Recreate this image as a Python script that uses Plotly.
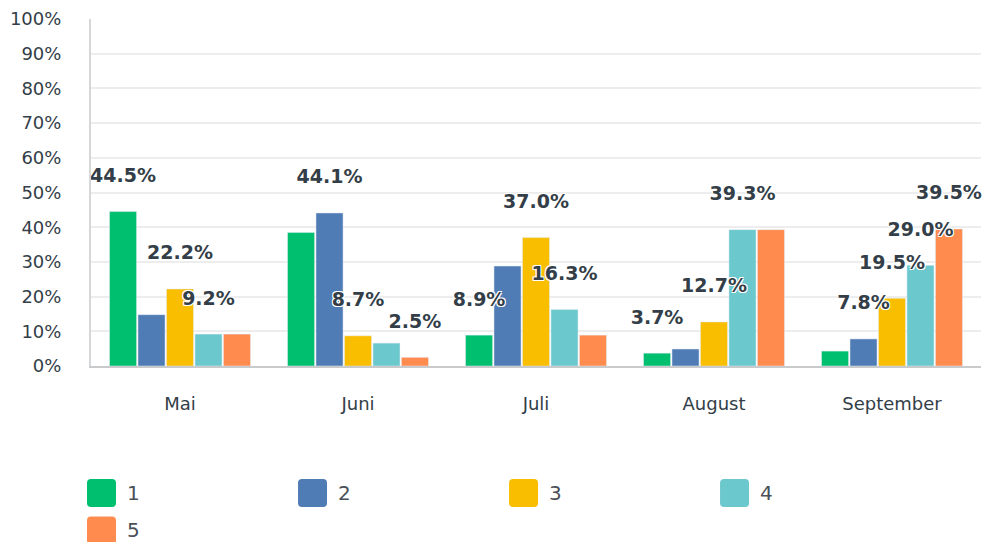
import plotly.graph_objects as go

categories = ["Mai", "Juni", "Juli", "August", "September"]
series_names = ["1", "2", "3", "4", "5"]
series_colors = ["#00BF6F", "#507CB6", "#F9BE00", "#6BC8CD", "#FF8B4F"]

s1 = [44.5, 38.5, 8.9, 3.7, 4.3]
s2 = [14.8, 44.1, 28.8, 4.9, 7.8]
s3 = [22.2, 8.7, 37.0, 12.7, 19.5]
s4 = [9.2, 6.6, 16.3, 39.3, 29.0]
s5 = [9.2, 2.5, 8.9, 39.3, 39.5]
series_values = [s1, s2, s3, s4, s5]

# which value labels are visible (others hidden by overlap in the original)
show1 = [True, False, True, True, False]
show2 = [False, True, False, False, True]
show3 = [True, True, True, True, True]
show4 = [True, False, True, True, True]
show5 = [False, True, False, False, True]
series_show = [show1, show2, show3, show4, show5]

y_ticks = [0, 10, 20, 30, 40, 50, 60, 70, 80, 90, 100]
y_tick_labels = [f"{t}%" for t in y_ticks]

FONT = "DejaVu Sans"
TXT = "#333E48"

fig = go.Figure()
for i, (name, vals, col) in enumerate(zip(series_names, series_values, series_colors)):
    fig.add_trace(go.Bar(
        x=categories, y=vals, name=name, marker_color=col,
        offsetgroup=str(i), showlegend=False, hoverinfo="skip",
    ))
for i, (vals, shows) in enumerate(zip(series_values, series_show)):
    fig.add_trace(go.Scatter(
        x=categories, y=vals, mode="markers+text",
        text=[f"{v:.1f}%" if s else "" for v, s in zip(vals, shows)],
        textposition="top center",
        marker=dict(size=38, opacity=0),
        textfont=dict(family=FONT, size=19, color=TXT, weight="bold",
                      shadow="1px 1px 0 #fff, -1px -1px 0 #fff, 1px -1px 0 #fff, -1px 1px 0 #fff"),
        offsetgroup=str(i), showlegend=False, hoverinfo="skip", cliponaxis=False,
    ))

# custom legend (large rounded swatches)
shapes = []
annotations = []
x_start, x_step = -0.0045, 0.2371
row_y = [-0.366, -0.474]
for i, (name, col) in enumerate(zip(series_names, series_colors)):
    row = 0 if i < 4 else 1
    colpos = i if i < 4 else 0
    xa = x_start + colpos * x_step
    ya = row_y[row]
    shapes.append(dict(
        type="path", xref="paper", yref="paper", xsizemode="pixel", ysizemode="pixel",
        xanchor=xa, yanchor=ya,
        path="M 4,-14 L 25,-14 Q 29,-14 29,-10 L 29,10 Q 29,14 25,14 L 4,14 Q 0,14 0,10 L 0,-10 Q 0,-14 4,-14 Z",
        fillcolor=col, line=dict(width=0), layer="above",
    ))
    annotations.append(dict(
        x=xa + 0.0425, y=ya, xref="paper", yref="paper", text=name, showarrow=False,
        xanchor="left", yanchor="middle", font=dict(family=FONT, size=20, color="#4A5058"),
    ))

fig.update_layout(
    width=984, height=542,
    margin=dict(l=91, r=3, t=19, b=176, autoexpand=False),
    paper_bgcolor="white", plot_bgcolor="white",
    barmode="group", bargap=0.2, bargroupgap=0.05,
    scattermode="group", scattergap=0.2,
    font=dict(family=FONT, size=18, color=TXT),
    showlegend=False,
    shapes=shapes, annotations=annotations,
    xaxis=dict(
        showgrid=False, showline=True, linecolor="#C9CACB", linewidth=2,
        ticks="outside", ticklen=0, ticklabelstandoff=20, automargin=False,
        tickfont=dict(family=FONT, size=18, color=TXT),
    ),
    yaxis=dict(
        range=[0, 100], tickmode="array", tickvals=y_ticks, ticktext=y_tick_labels,
        showgrid=True, gridcolor="#EDEDED", gridwidth=2,
        showline=True, linecolor="#D6D7D8", linewidth=2,
        zeroline=False, ticks="outside", ticklen=0, ticklabelstandoff=24,
        automargin=False,
        tickfont=dict(family=FONT, size=18, color=TXT),
    ),
)

fig.write_html("out.html", config={"displayModeBar": False},
               post_script="document.body.style.margin='0';")
